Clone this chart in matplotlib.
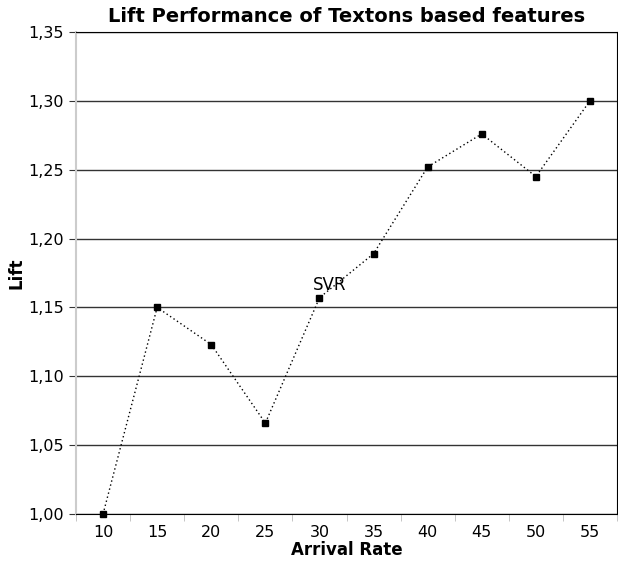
import matplotlib.pyplot as plt
import numpy as np
from matplotlib.ticker import FuncFormatter

# Datos
arrival_rate = ["10", "15", "20", "25", "30", "35", "40", "45", "50", "55"]
lift = [1.000, 1.150, 1.123, 1.066, 1.157, 1.189, 1.252, 1.276, 1.245, 1.300]
y_ticks = [1.00, 1.05, 1.10, 1.15, 1.20, 1.25, 1.30, 1.35]

plt.rcParams['font.family'] = ['DejaVu Sans']

fig = plt.figure(figsize=(6.18, 5.64), dpi=100)
ax = fig.add_axes([0.123, 0.0887, 0.8754, 0.8546])

x = np.arange(len(arrival_rate))
ax.plot(x, lift, color='black', linestyle=(0, (1, 2)), linewidth=1.0,
        marker='s', markersize=4.5, markerfacecolor='black',
        markeredgecolor='black', zorder=3, clip_on=False)

ax.annotate('SVR', xy=(x[4], lift[4]), xytext=(7, 3), textcoords='offset points',
            ha='center', va='bottom', fontsize=12)

# Ejes
ax.set_xlim(-0.5, len(arrival_rate) - 0.5)
ax.set_ylim(1.00, 1.35)
ax.set_xticks(x)
ax.set_xticklabels(arrival_rate)
ax.set_xticks(np.arange(-0.5, len(arrival_rate)), minor=True)
ax.tick_params(axis='x', which='major', length=0, pad=8, labelsize=11.5)
ax.tick_params(axis='x', which='minor', length=5, color='#bbbbbb', direction='out')
ax.set_yticks(y_ticks)
ax.yaxis.set_major_formatter(FuncFormatter(lambda v, p: f"{v:.2f}".replace('.', ',')))
ax.tick_params(axis='y', length=5, color='#333333', labelsize=11.5)

ax.grid(axis='y', color='#333333', linewidth=1.0)
ax.set_axisbelow(True)

ax.spines['left'].set_color('#cccccc')
ax.spines['left'].set_linewidth(1.5)
ax.spines['bottom'].set_color('black')
ax.spines['right'].set_color('black')
ax.spines['top'].set_color('black')

ax.set_title('Lift Performance of Textons based features', fontsize=14,
             fontweight='bold', pad=7)
ax.set_xlabel('Arrival Rate', fontsize=12, fontweight='bold', labelpad=1)
ax.set_ylabel('Lift', fontsize=12, fontweight='bold', labelpad=2)

fig.savefig('out.png', dpi=100)
